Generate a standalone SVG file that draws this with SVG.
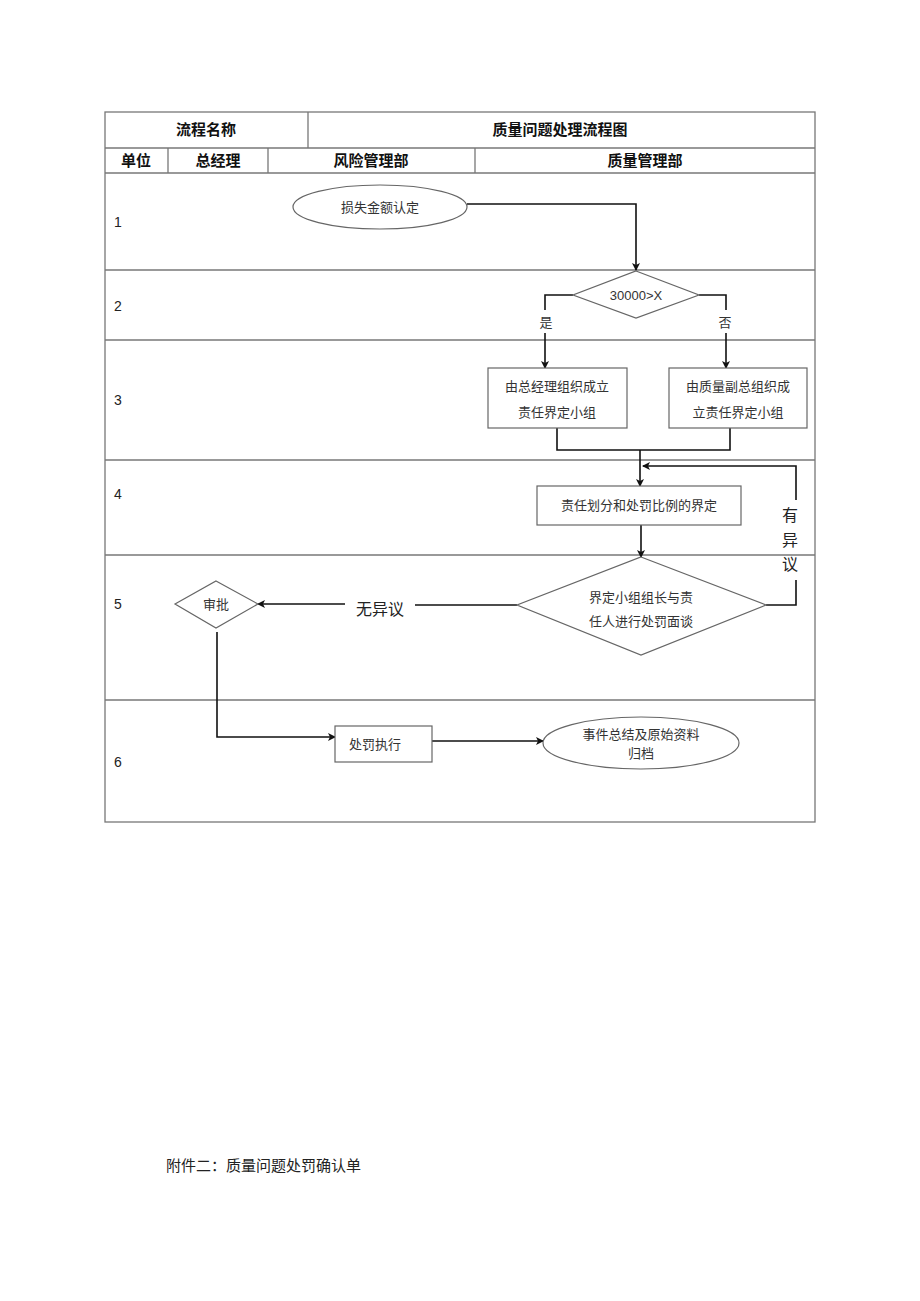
<svg xmlns="http://www.w3.org/2000/svg" width="920" height="1301" viewBox="0 0 920 1301">
<style>
.grid{stroke:#777;stroke-width:1.3;fill:none}
.shape{fill:#fff;stroke:#666;stroke-width:1.2}
.conn{stroke:#111;stroke-width:1.6;fill:none}
.hd{font-family:"Liberation Sans","Noto Sans CJK SC",sans-serif;font-size:15px;font-weight:bold;fill:#111;text-anchor:middle}
.num{font-family:"Liberation Sans","Noto Sans CJK SC",sans-serif;font-size:14px;fill:#222}
.t{font-family:"Noto Sans CJK SC",sans-serif;font-size:13px;fill:#333;text-anchor:middle}
.big{font-family:"Noto Sans CJK SC",sans-serif;font-size:16px;fill:#222;text-anchor:middle}
</style>
<defs>
<marker id="arr" markerWidth="8" markerHeight="8" refX="7" refY="4" orient="auto" markerUnits="userSpaceOnUse">
<path d="M0,0 L8,4 L0,8 L2,4 Z" fill="#111"/>
</marker>
</defs>
<rect width="920" height="1301" fill="#fff"/>
<g id="table">
<rect x="105" y="112" width="710" height="710" class="grid"/>
<line x1="105" y1="148" x2="815" y2="148" class="grid"/>
<line x1="105" y1="173" x2="815" y2="173" class="grid"/>
<line x1="105" y1="270" x2="815" y2="270" class="grid"/>
<line x1="105" y1="340" x2="815" y2="340" class="grid"/>
<line x1="105" y1="460" x2="815" y2="460" class="grid"/>
<line x1="105" y1="555" x2="815" y2="555" class="grid"/>
<line x1="105" y1="700" x2="815" y2="700" class="grid"/>
<line x1="308" y1="112" x2="308" y2="148" class="grid"/>
<line x1="168" y1="148" x2="168" y2="173" class="grid"/>
<line x1="268" y1="148" x2="268" y2="173" class="grid"/>
<line x1="475" y1="148" x2="475" y2="173" class="grid"/>
<text x="206" y="135" class="hd">流程名称</text>
<text x="560" y="135" class="hd">质量问题处理流程图</text>
<text x="136" y="166" class="hd">单位</text>
<text x="218" y="166" class="hd">总经理</text>
<text x="371" y="166" class="hd">风险管理部</text>
<text x="645" y="166" class="hd">质量管理部</text>
<text x="114" y="227" class="num">1</text>
<text x="114" y="311" class="num">2</text>
<text x="114" y="405" class="num">3</text>
<text x="114" y="499" class="num">4</text>
<text x="114" y="609" class="num">5</text>
<text x="114" y="767" class="num">6</text>
</g>
<g id="connectors">
<polyline points="467,204 636,204 636,270" class="conn" marker-end="url(#arr)"/>
<polyline points="573,295 545,295 545,310" class="conn"/>
<line x1="545" y1="333" x2="545" y2="368" class="conn" marker-end="url(#arr)"/>
<polyline points="699,295 726,295 726,310" class="conn"/>
<line x1="726" y1="333" x2="726" y2="368" class="conn" marker-end="url(#arr)"/>
<polyline points="557,428 557,450 730,450 730,428" class="conn"/>
<line x1="640" y1="450" x2="640" y2="486" class="conn" marker-end="url(#arr)"/>
<line x1="641" y1="525" x2="641" y2="557" class="conn" marker-end="url(#arr)"/>
<polyline points="766,605 796,605 796,580" class="conn"/>
<polyline points="796,500 796,466 643,466" class="conn" marker-end="url(#arr)"/>
<line x1="517" y1="605" x2="415" y2="605" class="conn"/>
<line x1="345" y1="604" x2="258" y2="604" class="conn" marker-end="url(#arr)"/>
<polyline points="217,632 217,737 335,737" class="conn" marker-end="url(#arr)"/>
<line x1="432" y1="741" x2="543" y2="741" class="conn" marker-end="url(#arr)"/>
<text x="546" y="327" class="t">是</text>
<text x="725" y="327" class="t">否</text>
<text x="790" y="521" class="big">有</text>
<text x="790" y="546" class="big">异</text>
<text x="790" y="570" class="big">议</text>
<text x="380" y="615" class="big">无异议</text>
</g>
<g id="n-start">
<ellipse cx="380" cy="207" rx="87" ry="22" class="shape"/>
<text x="380" y="212" class="t">损失金额认定</text>
</g>
<g id="n-decision1">
<polygon points="636,271 699,295 636,318 573,295" class="shape"/>
<text x="636" y="300" class="t" style="font-family:'Liberation Sans',sans-serif">30000&gt;X</text>
</g>
<g id="n-box1">
<rect x="488" y="368" width="139" height="60" class="shape"/>
<text x="557" y="391" class="t">由总经理组织成立</text>
<text x="557" y="417" class="t">责任界定小组</text>
</g>
<g id="n-box2">
<rect x="669" y="368" width="138" height="60" class="shape"/>
<text x="738" y="391" class="t">由质量副总组织成</text>
<text x="738" y="417" class="t">立责任界定小组</text>
</g>
<g id="n-box3">
<rect x="537" y="486" width="204" height="39" class="shape"/>
<text x="639" y="510" class="t">责任划分和处罚比例的界定</text>
</g>
<g id="n-decision2">
<polygon points="641,557 766,605 641,655 517,605" class="shape"/>
<text x="641" y="602" class="t">界定小组组长与责</text>
<text x="641" y="626" class="t">任人进行处罚面谈</text>
</g>
<g id="n-approve">
<polygon points="216,581 258,604 216,628 175,604" class="shape"/>
<text x="216" y="609" class="t">审批</text>
</g>
<g id="n-exec">
<rect x="335" y="726" width="97" height="36" class="shape"/>
<text x="375" y="749" class="t">处罚执行</text>
</g>
<g id="n-archive">
<ellipse cx="641" cy="743" rx="98" ry="26" class="shape"/>
<text x="641" y="739" class="t">事件总结及原始资料</text>
<text x="641" y="758" class="t">归档</text>
</g>
<text x="166" y="1171" style="font-family:'Noto Sans CJK SC',sans-serif;font-size:15px;fill:#222">附件二：质量问题处罚确认单</text>
</svg>
